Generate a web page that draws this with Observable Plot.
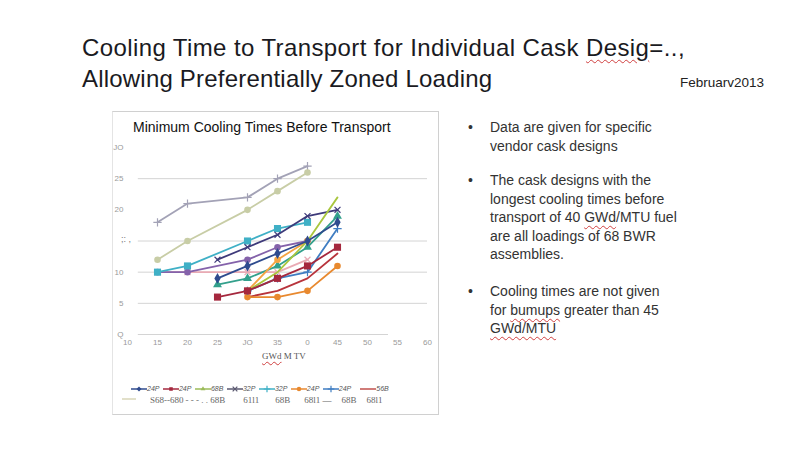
<!DOCTYPE html>
<html><head><meta charset="utf-8">
<script src="https://cdn.jsdelivr.net/npm/d3@7"></script>
<script src="https://cdn.jsdelivr.net/npm/@observablehq/plot@0.6"></script>
<style>
  html,body{margin:0;padding:0;background:#fff;}
  #page{position:relative;width:800px;height:450px;background:#fff;font-family:"Liberation Sans",Arial,sans-serif;overflow:hidden;}
  .abs{position:absolute;white-space:nowrap;}
  .title{font-size:24px;color:#1a1a22;}
  .spell{text-decoration:underline wavy #d04040;text-decoration-thickness:1px;text-underline-offset:3px;}
  .bul{font-size:14px;color:#333;line-height:18.5px;}
  .dot{position:absolute;left:-22px;}
  #frame{position:absolute;left:112px;top:111px;width:325px;height:302px;border:1px solid #d0d0d0;border-left-color:#e4e4e4;}
  .lg1{font-size:7px;font-style:italic;color:#555;}
  .lg2{font-family:"Liberation Serif",serif;font-size:9px;color:#666;}
</style></head>
<body><div id="page">
  <div class="abs title" style="left:82px;top:34px;letter-spacing:0.4px;">Cooling Time to Transport for Individual Cask <span class="spell">Desig</span>=..,</div>
  <div class="abs title" style="left:82px;top:65px;letter-spacing:0.2px;">Allowing Preferentially Zoned Loading</div>
  <div class="abs" style="left:680px;top:75px;font-size:13.5px;color:#222;">Februarv2013</div>

  <div id="frame"></div>
  <div class="abs" style="left:133px;top:119px;font-size:14px;color:#111;">Minimum Cooling Times Before Transport</div>
  <div id="chart" class="abs" style="left:100px;top:110px;"></div>
  <div class="abs" style="left:262px;top:351px;font-family:'Liberation Serif',serif;font-size:9px;color:#555;"><span class="spell" style="text-underline-offset:2px">GWd</span> M TV</div>
  <div class="abs" style="left:121px;top:234px;font-size:9px;color:#777;">;: ,</div>
  <div id="legend1" class="abs" style="left:131px;top:377px;"></div>
  <div id="legend2" class="abs" style="left:122px;top:389px;"></div>

  <div class="abs bul" style="left:490px;top:118px;"><span class="dot">•</span>Data are given for specific<br>vendor cask designs</div>
  <div class="abs bul" style="left:490px;top:171px;"><span class="dot">•</span>The cask designs with the<br>longest cooling times before<br>transport of 40 <span class="spell">GWd</span>/MTU fuel<br>are all loadings of 68 BWR<br>assemblies.</div>
  <div class="abs bul" style="left:490px;top:282px;"><span class="dot">•</span>Cooling times are not given<br>for <span class="spell">bumups</span> greater than 45<br><span class="spell">GWd/MTU</span></div>
</div>
<script>
// ---- data ----
const burnup = [15, 20, 25, 30, 35, 40, 45];
const xTicks = [10, 15, 20, 25, 30, 35, 40, 45, 50, 55, 60];
const xTickLabels = ["10", "15", "20", "25", "JO", "35", "0", "45", "50", "55", "60"];
const yTicks = [0, 5, 10, 20, 25, 30];
const yTickLabels = ["Q", "5", "10", "20", "25", "JO"];
const gridValues = [5, 10, 15, 25];

const cask24P_a = [null, null, 9, 11, 13, 15, 18];
const cask24P_b = [null, null, 6, 7, 9, 11, 14];
const cask68B_a = [null, null, null, 7, 10, 15, 22];
const cask32P_a = [null, null, 12, 14, 16, 19, 20];
const cask32P_b = [10, 11, null, 15, 17, 18, null];
const cask24P_c = [null, null, null, 6, 6, 7, 11];
const cask24P_d = [null, null, null, 7, 9, 10, 17];
const cask56B   = [null, null, null, 6, 7, 9, 13];
const cask68B_b = [12, 15, null, 20, 23, 26, null];
const cask68B_c = [18, 21, null, 22, 25, 27, null];
const cask68B_d = [null, null, 8, 9, 11, 14, 19];
const cask68B_e = [10, 10, null, 12, 14, 15, null];
const cask68B_f = [10, 10, null, 10, 10, 12, null];
const cask68B_g = [null, null, null, 7, 12, 15, null];

const legendRow1 = ["24P", "24P", "68B", "32P", "32P", "24P", "24P", "56B"];
const legendRow2 = ["S68--680", "- - - . . 68B", "61l1", "68B", "68l1 —", "68B", "68l1"];

// ---- styles ----
const series = [
  {v: cask68B_c, color: "#a3a2b6", symbol: "plus"},
  {v: cask68B_b, color: "#c8cda6", symbol: "circle"},
  {v: cask68B_f, color: "#e9aab4", symbol: "times"},
  {v: cask68B_e, color: "#8462aa", symbol: "circle"},
  {v: cask32P_b, color: "#3fb0c6", symbol: "square"},
  {v: cask32P_a, color: "#3e3a7a", symbol: "times"},
  {v: cask56B,   color: "#b8343c", symbol: null},
  {v: cask24P_c, color: "#e8892f", symbol: "circle"},
  {v: cask24P_d, color: "#3f7dc2", symbol: "plus"},
  {v: cask68B_d, color: "#33a08c", symbol: "triangle"},
  {v: cask68B_g, color: "#f5a442", symbol: "circle"},
  {v: cask68B_a, color: "#a9c63e", symbol: null},
  {v: cask24P_b, color: "#a5283e", symbol: "square"},
  {v: cask24P_a, color: "#2f4b8e", symbol: "diamond"},
];
const legendStyles1 = [
  {color: "#2f4b8e", symbol: "diamond"}, {color: "#a5283e", symbol: "square"},
  {color: "#9bbb59", symbol: "triangle"}, {color: "#5a5870", symbol: "times"},
  {color: "#3fb0c6", symbol: "plus"}, {color: "#e8892f", symbol: "circle"},
  {color: "#3f7dc2", symbol: "plus"}, {color: "#c0504d", symbol: null}
];

const marks = [
  Plot.ruleY(gridValues, {x1: 11.8, x2: 60, stroke: "#d4d4d4", strokeWidth: 1}),
  Plot.ruleY([0], {x1: 11.8, x2: 53.5, stroke: "#d4d4d4", strokeWidth: 1}),
];
for (const s of series) {
  const rows = s.v.map((y, i) => ({x: burnup[i], y})).filter(d => d.y != null);
  marks.push(Plot.line(rows, {x: "x", y: "y", stroke: s.color, strokeWidth: 1.8}));
  if (s.symbol === "times" || s.symbol === "plus") {
    marks.push(Plot.dot(rows, {x: "x", y: "y", symbol: s.symbol, stroke: s.color, strokeWidth: 1.2, r: 2.8}));
  } else if (s.symbol) {
    marks.push(Plot.dot(rows, {x: "x", y: "y", symbol: s.symbol, fill: s.color, r: s.symbol === "square" ? 4 : 3.3}));
  }
}

const chart = Plot.plot({
  width: 340, height: 260,
  marginLeft: 27, marginRight: 13, marginTop: 37, marginBottom: 36,
  style: {fontFamily: "Liberation Sans, Arial, sans-serif", fontSize: "8px", color: "#9a9a9a", background: "transparent"},
  x: {domain: [10, 60], ticks: xTicks, tickFormat: d => xTickLabels[xTicks.indexOf(d)], tickSize: 0, tickPadding: 5, label: null},
  y: {domain: [0, 30], ticks: yTicks, tickFormat: d => yTickLabels[yTicks.indexOf(d)], tickSize: 0, tickPadding: 4, label: null},
  marks
});
document.getElementById("chart").appendChild(chart);

// ---- legend ----
function symSvg(st) {
  const sym = st.symbol ? d3.symbol().type({
    diamond: d3.symbolDiamond2, square: d3.symbolSquare2, triangle: d3.symbolTriangle2,
    circle: d3.symbolCircle, times: d3.symbolTimes, plus: d3.symbolPlus
  }[st.symbol]).size(16)() : "";
  const stroked = st.symbol === "times" || st.symbol === "plus";
  return `<svg width="16" height="8" style="vertical-align:middle"><line x1="0" x2="16" y1="4" y2="4" stroke="${st.color}" stroke-width="1.5"/>` +
    (sym ? `<path transform="translate(8,4)" d="${sym}" fill="${stroked ? "none" : st.color}" stroke="${stroked ? st.color : "none"}" stroke-width="1.2"/>` : "") + `</svg>`;
}
const l1 = document.getElementById("legend1");
l1.innerHTML = legendRow1.map((t, i) =>
  `<span class="lg1" style="margin-right:${i === 6 ? 9 : 3.5}px">${symSvg(legendStyles1[i])}${t}</span>`).join("");
const l2 = document.getElementById("legend2");
const gaps2 = [14, 2, 18, 16, 14, 10, 10];
l2.innerHTML = `<svg width="14" height="8" style="vertical-align:middle"><line x1="0" x2="14" y1="4" y2="4" stroke="#d8d6b8" stroke-width="1.5"/></svg>` +
  legendRow2.map((t, i) => `<span class="lg2" style="margin-left:${gaps2[i]}px">${t}</span>`).join("");
</script>
</body></html>
